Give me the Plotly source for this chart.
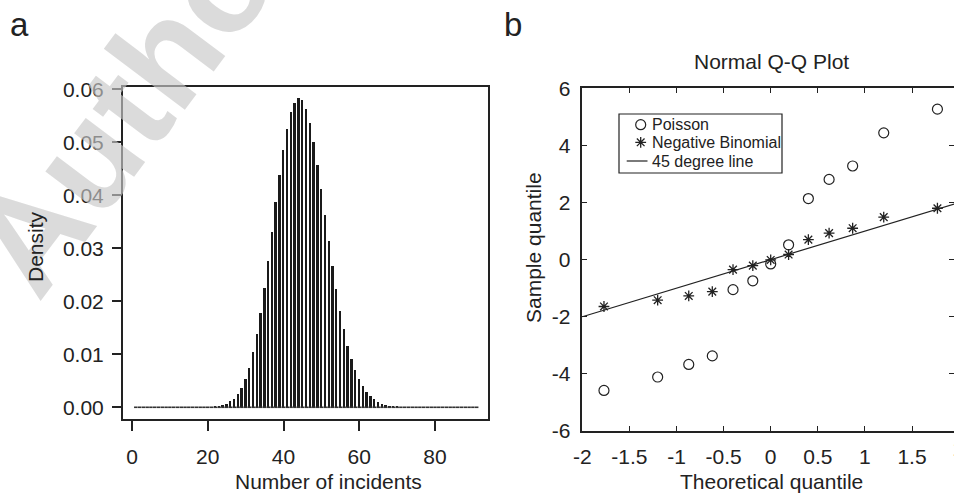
import plotly.graph_objects as go

# ---------------- data ----------------
# Panel a: density of number of incidents (x = 1..91)
incidents = list(range(1, 92))
density = (
    [0.0] * 21 +                                   # 1..21
    [0.0001, 0.0002, 0.0004, 0.0006, 0.0011,        # 22..26
     0.0016, 0.0025, 0.0037, 0.0053, 0.0075,        # 27..31
     0.0104, 0.0138, 0.0177, 0.0226, 0.0276,        # 32..36
     0.0331, 0.0387, 0.0438, 0.0486, 0.0526,        # 37..41
     0.0557, 0.0575, 0.0584, 0.0580, 0.0562,        # 42..46
     0.0537, 0.0500, 0.0457, 0.0411, 0.0363,        # 47..51
     0.0314, 0.0267, 0.0223, 0.0182, 0.0148,        # 52..56
     0.0116, 0.0092, 0.0071, 0.0053, 0.0041,        # 57..61
     0.0029, 0.0022, 0.0015, 0.0010, 0.0007,        # 62..66
     0.0004, 0.0003, 0.0002, 0.0001] +              # 67..70
    [0.0] * 21                                      # 71..91
)
a_xticks = [0, 20, 40, 60, 80]
a_yticks = [0.00, 0.01, 0.02, 0.03, 0.04, 0.05, 0.06]

# Panel b: Normal Q-Q plot
theo_q = [-1.77, -1.20, -0.87, -0.62, -0.40, -0.19, 0.0, 0.19, 0.40, 0.62, 0.87, 1.20, 1.77]
poisson_q = [-4.58, -4.11, -3.67, -3.37, -1.05, -0.74, -0.15, 0.52, 2.14, 2.81, 3.28, 4.44, 5.27]
negbin_q = [-1.64, -1.42, -1.27, -1.12, -0.35, -0.21, -0.01, 0.18, 0.70, 0.93, 1.10, 1.49, 1.80]
line_x = [-2, 2]
line_y = [-2, 2]
b_xticks = [-2, -1.5, -1, -0.5, 0, 0.5, 1, 1.5]
b_xticklabels = ["-2", "-1.5", "-1", "-0.5", "0", "0.5", "1", "1.5"]
b_yticks = [-6, -4, -2, 0, 2, 4, 6]
b_yticklabels = ["-6", "-4", "-2", "0", "2", "4", "6"]
legend_labels = ["Poisson", "Negative Binomial", "45 degree line"]

# ---------------- style ----------------
W, H = 954, 493
FONT = "Liberation Sans, Arial, Helvetica, sans-serif"
INK = "#222222"

def px_x(p):
    return p / W

def px_y(p):
    return 1 - p / H

poisson_marker = dict(symbol="circle-open", size=10, line=dict(width=1.2, color=INK), color=INK)
negbin_marker = dict(symbol="asterisk", size=9, line=dict(width=1.3, color=INK), color=INK)
line_style = dict(color=INK, width=1.2)

fig = go.Figure()

# Panel a bars
fig.add_trace(go.Bar(
    x=incidents, y=density, width=0.5,
    marker=dict(color="#1a1a1a", line=dict(width=0)),
    xaxis="x", yaxis="y", showlegend=False, hoverinfo="x+y",
))
# zero-height stubs (baseline dots)
fig.add_trace(go.Scatter(
    x=incidents, y=[0 for _ in incidents], mode="markers",
    marker=dict(symbol="line-ew", size=2.5, line=dict(width=1.6, color="#333333")),
    xaxis="x", yaxis="y", showlegend=False, hoverinfo="skip",
))

# Panel b
fig.add_trace(go.Scatter(
    x=theo_q, y=poisson_q, mode="markers", name=legend_labels[0],
    marker=poisson_marker, xaxis="x2", yaxis="y2", showlegend=False,
))
fig.add_trace(go.Scatter(
    x=theo_q, y=negbin_q, mode="markers", name=legend_labels[1],
    marker=negbin_marker, xaxis="x2", yaxis="y2", showlegend=False,
))
fig.add_trace(go.Scatter(
    x=line_x, y=line_y, mode="lines", name=legend_labels[2],
    line=line_style, xaxis="x2", yaxis="y2", showlegend=False,
))

# compact legend glyphs on a hidden pixel-space overlay axis
LG_X = 640.7
LG_Y = [124.7, 142.3, 161.0]
fig.add_trace(go.Scatter(x=[LG_X], y=[LG_Y[0]], mode="markers", marker=poisson_marker,
                         xaxis="x3", yaxis="y3", showlegend=False, hoverinfo="skip"))
fig.add_trace(go.Scatter(x=[LG_X], y=[LG_Y[1]], mode="markers", marker=negbin_marker,
                         xaxis="x3", yaxis="y3", showlegend=False, hoverinfo="skip"))
fig.add_trace(go.Scatter(x=[626.7, 647.5], y=[LG_Y[2], LG_Y[2]], mode="lines", line=line_style,
                         xaxis="x3", yaxis="y3", showlegend=False, hoverinfo="skip"))

tickfont = dict(family=FONT, size=21, color=INK)

fig.update_layout(
    width=W, height=H,
    margin=dict(l=0, r=0, t=0, b=0, pad=0, autoexpand=False),
    paper_bgcolor="white",
    plot_bgcolor="rgba(0,0,0,0)",
    font=dict(family=FONT, color=INK),
    bargap=0,
    showlegend=False,
    xaxis=dict(
        domain=[px_x(123), px_x(488)], range=[-2.376, 93.99],
        tickvals=a_xticks, ticks="outside", ticklen=10, tickwidth=2, tickcolor=INK,
        showline=True, linecolor=INK, linewidth=2, mirror=True,
        showgrid=False, zeroline=False, tickfont=tickfont, ticklabelstandoff=8,
        anchor="y", automargin=False,
    ),
    yaxis=dict(
        domain=[px_y(419), px_y(87)], range=[-0.00221, 0.06043],
        tickvals=a_yticks, tickformat=".2f", ticks="outside", ticklen=9, tickwidth=2, tickcolor=INK,
        showline=True, linecolor=INK, linewidth=2, mirror=True,
        showgrid=False, zeroline=False, tickfont=tickfont, ticklabelstandoff=4,
        anchor="x", automargin=False,
    ),
    xaxis2=dict(
        domain=[px_x(582.3), 1.0], range=[-2, -2 + (954 - 582.3) / 94.2],
        tickvals=b_xticks, ticktext=b_xticklabels, ticks="inside", ticklen=5, tickwidth=1.2, tickcolor=INK,
        showline=True, linecolor=INK, linewidth=1.5, mirror="ticks",
        showgrid=False, zeroline=False, tickfont=tickfont, ticklabelstandoff=6,
        anchor="y2", automargin=False,
    ),
    yaxis2=dict(
        domain=[px_y(431), px_y(88.3)], range=[-6, 6],
        tickvals=b_yticks, ticktext=b_yticklabels, ticks="inside", ticklen=5, tickwidth=1.2, tickcolor=INK,
        showline=True, linecolor=INK, linewidth=1.5, mirror="ticks",
        showgrid=False, zeroline=False, tickfont=tickfont, ticklabelstandoff=6,
        anchor="x2", automargin=False,
    ),
    xaxis3=dict(domain=[0, 1], range=[0, W], visible=False, fixedrange=True, anchor="y3"),
    yaxis3=dict(domain=[0, 1], range=[H, 0], visible=False, fixedrange=True, anchor="x3"),
)

# legend box
fig.add_shape(type="rect", xref="paper", yref="paper",
              x0=px_x(619), x1=px_x(782), y0=px_y(173), y1=px_y(114),
              line=dict(color=INK, width=1.2), fillcolor="white", layer="below")

ann = []
def text(x, y, s, size=21, angle=0, xanchor="center", yanchor="middle", color=INK, bold=False):
    ann.append(dict(
        x=px_x(x), y=px_y(y), xref="paper", yref="paper", text=("<b>%s</b>" % s) if bold else s,
        showarrow=False, textangle=angle, xanchor=xanchor, yanchor=yanchor,
        font=dict(family=FONT, size=size, color=color),
    ))

# watermark
text(138, 92, "Author", size=140, angle=-53, color="rgba(200,200,200,0.65)", bold=True)

text(19, 24, "a", size=33)
text(513, 24, "b", size=33)
text(328, 481, "Number of incidents")
text(35, 247, "Density", angle=-90)
text(771.7, 481, "Theoretical quantile")
text(533, 248, "Sample quantile", angle=-90)
text(771.7, 62, "Normal Q-Q Plot")
text(959, 448, "2")  # tick label of x = 2, cropped at the image edge
for lbl, yy in zip(legend_labels, LG_Y):
    text(650, yy, lbl, size=16, xanchor="left")

fig.update_layout(annotations=ann)

fig.write_html("out.html", config={"displayModeBar": False},
               post_script="document.body.style.margin='0px';")
